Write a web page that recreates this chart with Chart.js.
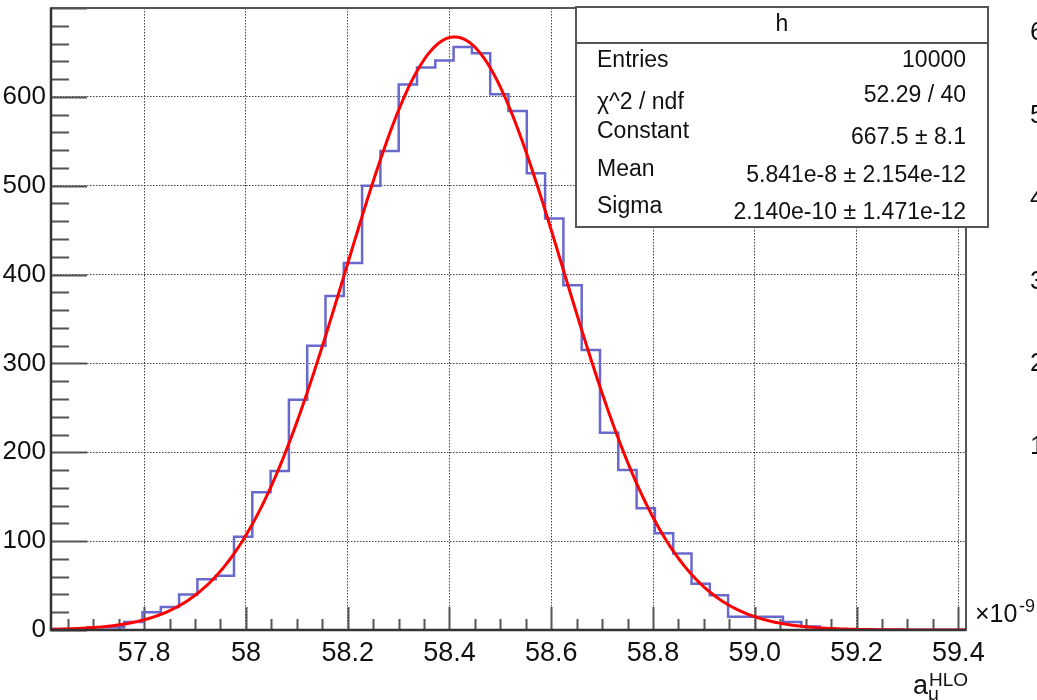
<!DOCTYPE html>
<html>
<head>
<meta charset="utf-8">
<title>h</title>
<script src="https://cdn.jsdelivr.net/npm/chart.js@4.4.1/dist/chart.umd.min.js"></script>
<style>
  html, body { margin: 0; padding: 0; background: #fff; }
  canvas { display: block; }
</style>
</head>
<body>
<canvas id="histChart" width="1037" height="700"></canvas>
<script>
// Histogramme h : 50 bins entre binLow et binLow + 50*binWidth (unités 1e-9)
const binLow = 57.617;
const binWidth = 0.03596;
const binCounts = [
  1, 1, 3, 3, 9, 20, 26, 40, 57, 61,
  105, 155, 179, 259, 320, 376, 413, 500, 539, 614,
  633, 641, 656, 649, 603, 584, 514, 463, 388, 315,
  222, 180, 137, 109, 86, 52, 39, 15, 15, 15,
  9, 4, 1, 0, 0, 0, 0, 0, 0, 0
];

// Paramètres de l'ajustement gaussien (boîte de stats)
const fitConstant = 667.5;
const fitMean = 58.41;
const fitSigma = 0.2140;

// Axes
const xMin = 57.617, xMax = 59.415;
const yMin = 0, yMax = 700;
const xTicks = [57.8, 58.0, 58.2, 58.4, 58.6, 58.8, 59.0, 59.2, 59.4];
const xTickLabels = ['57.8', '58', '58.2', '58.4', '58.6', '58.8', '59.0', '59.2', '59.4'];
const xMinorStep = 0.05;
const yTicks = [0, 100, 200, 300, 400, 500, 600];
const yMinorStep = 20;

// étiquettes coupées au bord droit (autre pad)
const sideTicks = [6, 5, 4, 3, 2, 1];

// Boîte de stats
const statsTitle = 'h';
const statsNames = ['Entries', 'χ^2 / ndf', 'Constant', 'Mean', 'Sigma'];
const statsValues = ['10000', '52.29 / 40', '667.5 ± 8.1', '5.841e-8 ± 2.154e-12', '2.140e-10 ± 1.471e-12'];

const FONT = "'Liberation Sans', Arial, Helvetica, sans-serif";

// contour du histogramme (bords gauches + dernier bord droit)
const histPoints = binCounts.map((c, i) => ({ x: binLow + i * binWidth, y: c }));
histPoints.push({ x: binLow + binCounts.length * binWidth, y: binCounts[binCounts.length - 1] });

// courbe de l'ajustement
const fitPoints = [];
const nFit = 400;
for (let i = 0; i <= nFit; i++) {
  const x = xMin + (xMax - xMin) * i / nFit;
  fitPoints.push({ x: x, y: fitConstant * Math.exp(-0.5 * Math.pow((x - fitMean) / fitSigma, 2)) });
}

// pas de marge verticale due aux étiquettes
function noVerticalPadding(scale) {
  scale.paddingTop = 0;
  scale.paddingBottom = 0;
}

// graduations vers l'intérieur, façon ROOT
const rootTicks = {
  id: 'rootTicks',
  beforeDatasetsDraw(chart) {
    const { ctx, chartArea: a, scales: { x, y } } = chart;
    ctx.save();
    ctx.strokeStyle = '#555';
    ctx.lineWidth = 2;
    ctx.beginPath();
    for (let k = Math.ceil(yMin / yMinorStep); k <= Math.floor(yMax / yMinorStep); k++) {
      const v = k * yMinorStep;
      const py = Math.round(y.getPixelForValue(v)) + 0.5;
      const len = (v % 100 === 0) ? 36 : 18;
      ctx.moveTo(a.left, py);
      ctx.lineTo(a.left + len, py);
    }
    for (let k = Math.ceil(xMin / xMinorStep - 1e-6); k <= Math.floor(xMax / xMinorStep + 1e-6); k++) {
      const v = k * xMinorStep;
      const px = Math.round(x.getPixelForValue(v)) + 0.5;
      const major = xTicks.some(t => Math.abs(t - v) < 1e-6);
      const len = major ? 23 : 11;
      ctx.moveTo(px, a.bottom);
      ctx.lineTo(px, a.bottom - len);
    }
    ctx.stroke();
    ctx.restore();
  },
  afterDatasetsDraw(chart) {
    const { ctx, chartArea: a } = chart;
    ctx.save();
    // cadre
    ctx.strokeStyle = '#555';
    ctx.lineWidth = 2;
    ctx.strokeRect(a.left, a.top, a.right - a.left, a.bottom - a.top);
    ctx.strokeStyle = '#333';
    ctx.lineWidth = 2.5;
    ctx.beginPath();
    ctx.moveTo(a.left, a.top);
    ctx.lineTo(a.left, a.bottom);
    ctx.lineTo(a.right, a.bottom);
    ctx.stroke();

    // titre de l'axe x : a_mu^HLO
    ctx.fillStyle = '#111';
    ctx.textBaseline = 'alphabetic';
    ctx.textAlign = 'left';
    ctx.font = '27px ' + FONT;
    ctx.fillText('a', 913, 694);
    ctx.font = '19px ' + FONT;
    ctx.fillText('μ', 928, 700);
    ctx.fillText('HLO', 929, 686);

    // facteur ×10^-9
    ctx.font = '25px ' + FONT;
    ctx.fillText('×10', 975, 622);
    ctx.font = '18px ' + FONT;
    ctx.fillText('-9', 1019, 612);

    // boîte de stats
    const bx = 576, by = 7, bw = 412, bh = 220;
    ctx.fillStyle = '#fff';
    ctx.fillRect(bx, by, bw, bh);
    ctx.strokeStyle = '#555';
    ctx.lineWidth = 2;
    ctx.strokeRect(bx, by, bw, bh);
    ctx.beginPath();
    ctx.moveTo(bx, 43);
    ctx.lineTo(bx + bw, 43);
    ctx.stroke();
    ctx.fillStyle = '#111';
    ctx.font = '23px ' + FONT;
    ctx.textBaseline = 'middle';
    ctx.textAlign = 'center';
    ctx.fillText(statsTitle, bx + bw / 2, 25);
    const nameY = [61, 103, 132, 170, 207];
    const valueY = [61, 96, 138, 176, 213];
    statsNames.forEach((n, i) => {
      ctx.textAlign = 'left';
      ctx.fillText(n, 597, nameY[i]);
      ctx.textAlign = 'right';
      ctx.fillText(statsValues[i], 966, valueY[i]);
    });
    ctx.restore();
  }
};

const ctx = document.getElementById('histChart').getContext('2d');

const histChart = new Chart(ctx, {
  type: 'line',
  data: {
    datasets: [
      {
        label: 'fit',
        data: fitPoints,
        borderColor: '#ff0000',
        borderWidth: 3,
        pointRadius: 0,
        fill: false,
        tension: 0,
        order: 0
      },
      {
        label: 'h',
        data: histPoints,
        borderColor: 'rgb(105, 105, 205)',
        borderWidth: 2.5,
        pointRadius: 0,
        fill: false,
        stepped: 'before',
        order: 1
      }
    ]
  },
  options: {
    responsive: false,
    animation: false,
    devicePixelRatio: 1,
    layout: { padding: { top: 8, left: 0, right: 0, bottom: 0 } },
    plugins: {
      legend: { display: false },
      tooltip: { enabled: false },
      title: { display: false }
    },
    scales: {
      x: {
        type: 'linear',
        min: xMin,
        max: xMax,
        afterBuildTicks: (scale) => { scale.ticks = xTicks.map(v => ({ value: v })); },
        afterFit: (scale) => { scale.height = 70; scale.paddingLeft = 0; scale.paddingRight = 0; },
        ticks: {
          autoSkip: false,
          maxRotation: 0,
          padding: 7,
          color: '#111',
          font: { family: FONT, size: 27 },
          callback: (v) => {
            const i = xTicks.findIndex(t => Math.abs(t - v) < 1e-6);
            return i >= 0 ? xTickLabels[i] : '';
          }
        },
        grid: { drawTicks: false, color: '#444', lineWidth: 1 },
        border: { display: false, dash: [1.5, 1.5] }
      },
      y: {
        min: yMin,
        max: yMax,
        afterBuildTicks: (scale) => { scale.ticks = yTicks.concat([yMax]).map(v => ({ value: v })); },
        afterFit: (scale) => { scale.width = 51; noVerticalPadding(scale); },
        ticks: {
          padding: 5,
          color: '#111',
          font: { family: FONT, size: 26 },
          callback: (v) => (yTicks.includes(v) ? String(v) : '')
        },
        grid: { drawTicks: false, color: '#444', lineWidth: 1 },
        border: { display: false, dash: [1.5, 1.5] }
      },
      y2: {
        position: 'right',
        min: -1.21,
        max: 6.302,
        afterBuildTicks: (scale) => { scale.ticks = sideTicks.map(v => ({ value: v })); },
        afterFit: (scale) => { scale.width = 71; noVerticalPadding(scale); },
        ticks: {
          padding: 64,
          color: '#111',
          font: { family: FONT, size: 26 },
          callback: (v) => String(v)
        },
        grid: { display: false, drawTicks: false },
        border: { display: false }
      }
    }
  },
  plugins: [rootTicks]
});
</script>
</body>
</html>
